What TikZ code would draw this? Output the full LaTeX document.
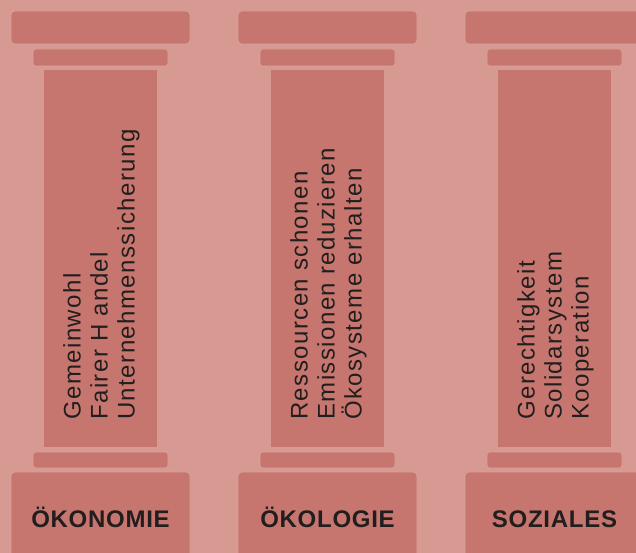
\documentclass[tikz,border=0pt]{standalone}
\usepackage{fontspec}
\setmainfont{Liberation Sans}
\newfontfamily\shaftfont{Liberation Sans}[LetterSpace=6.0]
\newfontfamily\labelfont{Liberation Sans}[LetterSpace=3.0]
\definecolor{bgc}{RGB}{215,154,147}
\definecolor{pillarc}{RGB}{199,118,111}
\definecolor{edgec}{RGB}{218,162,156}
\definecolor{txtc}{RGB}{34,30,30}
\tikzset{
  partbox/.style={fill=pillarc, draw=edgec, line width=0.6pt},
  shafttext/.style={rotate=90, anchor=west, inner sep=0pt, align=left, text=txtc,
    font=\shaftfont\fontsize{24}{27}\selectfont},
  baselabel/.style={anchor=base, inner sep=0pt, text=txtc,
    font=\labelfont\bfseries\fontsize{24}{28}\selectfont}
}
\begin{document}
\begin{tikzpicture}[x=1pt,y=-1pt]
\useasboundingbox (0,0) rectangle (636,553);
\clip (0,0) rectangle (636,553);
\fill[bgc] (0,0) rectangle (636,553);
\foreach \dx in {0,227,454}{
  \begin{scope}[xshift=\dx pt]
    \path[partbox, rounded corners=4pt] (11,11) rectangle (190,44);
    \path[partbox, rounded corners=3pt] (33,49) rectangle (168,66);
    \path[fill=pillarc] (44,70) rectangle (157,447);
    \path[partbox, rounded corners=3pt] (33,452) rectangle (168,468);
    \path[partbox, rounded corners=4pt] (11,472) rectangle (190,570);
  \end{scope}
}
\node[shafttext] (t1) at (101.5,420) {Gemeinwohl\\Fairer H andel\\Unternehmenssicherung};
\node[shafttext] (t2) at (328.5,420) {Ressourcen schonen\\Emissionen reduzieren\\Ökosysteme erhalten};
\node[shafttext] (t3) at (555.5,420) {Gerechtigkeit\\Solidarsystem\\Kooperation};
\node[baselabel] (l1) at (100.5,527) {ÖKONOMIE};
\node[baselabel] (l2) at (327.5,527) {ÖKOLOGIE};
\node[baselabel] (l3) at (554.5,527) {SOZIALES};
\end{tikzpicture}
\end{document}
